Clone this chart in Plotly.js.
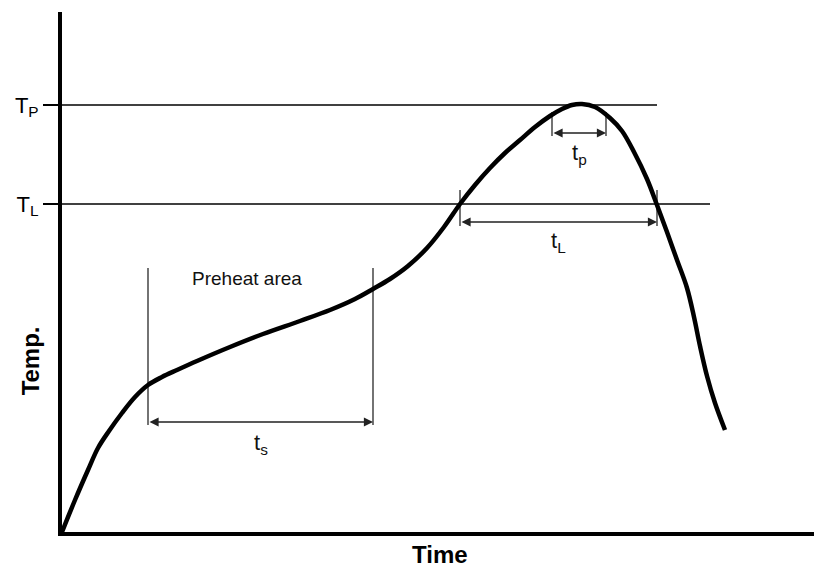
<!DOCTYPE html>
<html>
<head>
<meta charset="utf-8">
<script src="https://cdn.plot.ly/plotly-3.0.1.min.js"></script>
<style>html,body{margin:0;padding:0;background:#fff;}#chart{width:814px;height:576px;}</style>
</head>
<body>
<div id="chart"></div>
<script>
// Reflow profile curve (time, temperature) in arbitrary units
const time = [0, 13, 26, 36, 47, 60, 73, 86, 100, 115, 135, 168, 201, 238, 268, 293, 311, 328, 346, 365, 382, 398, 413, 428, 443, 458, 473, 488, 500, 510, 520, 533, 548, 560, 572, 585, 595, 605, 615, 625, 632, 638, 645, 653, 663];
const temp = [0, 32, 62, 84, 101, 119, 135, 147, 155, 162, 171, 185, 198, 211, 222, 233, 243, 253, 266, 284, 305, 328, 347, 364, 379, 392, 405, 416, 423, 427, 428, 425, 414, 401, 380, 353, 327, 300, 272, 244, 215, 186, 156, 129, 102];

// Reference levels
const levelNames = ["T<sub>P</sub>", "T<sub>L</sub>"];
const levelValues = [427, 328];
const levelEnds = [595, 648];

// Intervals: preheat (ts), above liquidus (tL), near peak (tp)
const spanNames = ["t<sub>s</sub>", "t<sub>L</sub>", "t<sub>p</sub>"];
const spanStart = [86, 398, 490];
const spanEnd = [311, 595, 544];
const spanBottom = [107, 306, 396];
const spanTop = [264, 342, 420];
const spanArrowY = [110, 310, 399];
const spanLabelY = [88, 290, 378];
const preheatLabel = "Preheat area";
const preheatLabelPos = [185, 254];

const traces = [];
for (let i = 0; i < levelValues.length; i++) {
  traces.push({x: [0, levelEnds[i]], y: [levelValues[i], levelValues[i]], mode: 'lines',
    line: {color: '#000', width: 1.3}, hoverinfo: 'skip', showlegend: false});
}
for (let i = 0; i < spanStart.length; i++) {
  traces.push({x: [spanStart[i], spanStart[i], null, spanEnd[i], spanEnd[i]],
    y: [spanBottom[i], spanTop[i], null, spanBottom[i], spanTop[i]], mode: 'lines',
    line: {color: '#000', width: 1.1}, hoverinfo: 'skip', showlegend: false});
}
traces.push({x: time, y: temp, mode: 'lines', line: {color: '#000', width: 4.5, shape: 'spline', smoothing: 1},
  hoverinfo: 'skip', showlegend: false});

const annotations = [];
for (let i = 0; i < spanStart.length; i++) {
  annotations.push({x: spanEnd[i], y: spanArrowY[i], ax: spanStart[i], ay: spanArrowY[i],
    xref: 'x', yref: 'y', axref: 'x', ayref: 'y', text: '', showarrow: true,
    arrowhead: 2, arrowside: 'end+start', arrowsize: 1.3, arrowwidth: 1.4, arrowcolor: '#222'});
  annotations.push({x: (spanStart[i] + spanEnd[i]) / 2, y: spanLabelY[i], xref: 'x', yref: 'y',
    text: spanNames[i], showarrow: false, font: {family: 'Liberation Sans, Arial', size: 22, color: '#111'}});
}
annotations.push({x: preheatLabelPos[0], y: preheatLabelPos[1], xref: 'x', yref: 'y', text: preheatLabel,
  showarrow: false, font: {family: 'Liberation Sans, Arial', size: 19, color: '#111'}});
annotations.push({x: 0.502, y: -0.044, xref: 'paper', yref: 'paper', yanchor: 'middle', text: '<b>Time</b>',
  showarrow: false, font: {family: 'Liberation Sans, Arial', size: 24, color: '#000'}});
annotations.push({x: -0.0426, y: 0.33, xref: 'paper', yref: 'paper', xanchor: 'center', yanchor: 'middle',
  text: '<b>Temp.</b>', textangle: -90,
  showarrow: false, font: {family: 'Liberation Sans, Arial', size: 24, color: '#000'}});

const layout = {
  width: 814, height: 576,
  margin: {l: 62, r: 0, t: 12, b: 44},
  paper_bgcolor: '#fff', plot_bgcolor: '#fff',
  xaxis: {range: [0, 752], showgrid: false, zeroline: false, showline: true, linewidth: 4, linecolor: '#000',
    showticklabels: false, ticks: '', fixedrange: true},
  yaxis: {range: [0, 520], showgrid: false, zeroline: false, showline: true, linewidth: 4, linecolor: '#000',
    tickvals: levelValues, ticktext: levelNames, ticks: 'outside', ticklen: 15, tickwidth: 1.3, tickcolor: '#000',
    tickfont: {family: 'Liberation Sans, Arial', size: 22, color: '#000'}, fixedrange: true},
  annotations: annotations,
  showlegend: false
};
Plotly.newPlot('chart', traces, layout, {displayModeBar: false, staticPlot: true});
</script>
</body>
</html>
